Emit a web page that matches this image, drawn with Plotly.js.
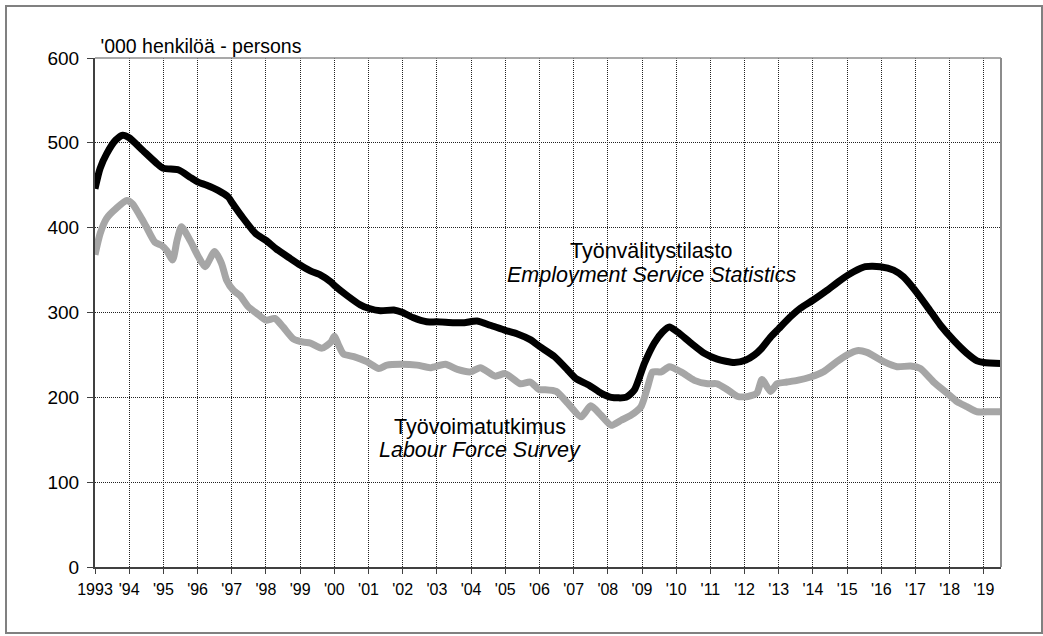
<!DOCTYPE html>
<html>
<head>
<meta charset="utf-8">
<script src="https://cdn.plot.ly/plotly-3.0.1.min.js"></script>
<style>
  body { margin: 0; background: #fff; }
  #plot { width: 1043px; height: 636px; }
  #frame { position: absolute; left: 5px; top: 5px; width: 1034px; height: 625px;
           border: 2px solid #808080; pointer-events: none; }
</style>
</head>
<body>
<div id="plot"></div>
<div id="frame"></div>
<script>
// tyottomat (thousands)
const esYears = [1993.0, 1993.15, 1993.34, 1993.6, 1993.81, 1994.0, 1994.4, 1994.8, 1995.0, 1995.45,
  1995.8, 1996.0, 1996.27, 1996.6, 1996.9, 1997.0, 1997.3, 1997.7, 1998.0, 1998.3,
  1998.7, 1999.0, 1999.3, 1999.6, 1999.9, 2000.0, 2000.37, 2000.76, 2001.0, 2001.35,
  2001.74, 2002.0, 2002.3, 2002.7, 2003.0, 2003.5, 2003.8, 2004.17, 2004.56, 2005.0,
  2005.34, 2005.73, 2006.0, 2006.44, 2006.83, 2007.07, 2007.46, 2007.8, 2008.1, 2008.53,
  2008.78, 2009.07, 2009.36, 2009.6, 2009.8, 2010.04, 2010.43, 2010.82, 2011.2, 2011.7,
  2012.04, 2012.29, 2012.48, 2012.76, 2013.0, 2013.34, 2013.63, 2014.02, 2014.41, 2014.8,
  2015.19, 2015.53, 2015.97, 2016.36, 2016.65, 2016.95, 2017.34, 2017.73, 2018.12, 2018.5,
  2018.8, 2019.0, 2019.5];
const esValues = [446, 470, 487, 503, 509, 506, 491, 476, 470, 468,
  459, 454, 450, 444, 436, 430, 413, 393, 385, 375,
  364, 356, 349, 344, 336, 332, 320, 309, 305, 302,
  303, 300, 294, 289, 289, 288, 288, 290, 285, 279,
  275, 268, 260, 248, 232, 222, 214, 205, 200, 200,
  209, 240, 264, 277, 283, 277, 264, 252, 245, 241,
  244, 250, 257, 271, 281, 295, 305, 315, 326, 338,
  348, 354, 354, 350, 342, 328, 307, 285, 267, 252,
  243, 241, 240];

const lfsYears = [1993.0, 1993.15, 1993.34, 1993.63, 1993.93, 1994.1, 1994.33, 1994.5, 1994.75, 1994.95,
  1995.1, 1995.27, 1995.4, 1995.53, 1995.78, 1996.02, 1996.22, 1996.5, 1996.7, 1996.85,
  1997.05, 1997.24, 1997.48, 1997.73, 1998.0, 1998.26, 1998.5, 1998.8, 1999.1, 1999.3,
  1999.64, 1999.9, 2000.0, 2000.12, 2000.27, 2000.57, 2000.95, 2001.3, 2001.54, 2001.93,
  2002.42, 2002.8, 2003.25, 2003.6, 2003.98, 2004.27, 2004.7, 2005.0, 2005.44, 2005.73,
  2006.0, 2006.15, 2006.49, 2006.83, 2007.22, 2007.5, 2007.8, 2008.1, 2008.39, 2008.68,
  2008.97, 2009.17, 2009.31, 2009.56, 2009.8, 2010.14, 2010.53, 2010.92, 2011.2, 2011.5,
  2011.8, 2012.1, 2012.36, 2012.51, 2012.76, 2012.95, 2013.24, 2013.54, 2013.93, 2014.3,
  2014.7, 2015.0, 2015.29, 2015.58, 2016.07, 2016.46, 2016.85, 2017.14, 2017.53, 2017.92,
  2018.21, 2018.5, 2018.8, 2019.19, 2019.5];
const lfsValues = [368, 393, 411, 423, 432, 428, 413, 401, 383, 379,
  373, 362, 385, 401, 385, 366, 354, 372, 358, 338,
  326, 320, 307, 299, 291, 293, 283, 269, 265, 264,
  258, 265, 272, 262, 251, 248, 242, 234, 238, 239,
  238, 235, 239, 233, 230, 235, 225, 228, 216, 218,
  209, 209, 207, 193, 177, 190, 179, 167, 173, 179,
  189, 213, 230, 230, 236, 230, 220, 216, 216, 209,
  201, 201, 205, 221, 207, 216, 218, 220, 224, 230,
  242, 250, 255, 253, 242, 236, 237, 234, 218, 205,
  195, 189, 183, 183, 183];

const tickYears = [];
const tickLabels = [];
for (let y = 1993; y <= 2019; y++) {
    tickYears.push(y);
    tickLabels.push(y === 1993 ? '1993' : "'" + String(y).slice(2));
}

const font = 'Liberation Sans, Arial, sans-serif';
const grid = { showgrid: true, gridcolor: '#222', gridwidth: 1, griddash: '1px,1px' };

const traceLfs = {
    x: lfsYears, y: lfsValues, mode: 'lines', type: 'scatter',
    line: { color: '#a6a6a6', width: 7, shape: 'spline', smoothing: 0.6 },
    hoverinfo: 'skip'
};
const traceEs = {
    x: esYears, y: esValues, mode: 'lines', type: 'scatter',
    line: { color: '#000000', width: 7, shape: 'spline', smoothing: 0.6 },
    hoverinfo: 'skip'
};

const layout = {
    width: 1043, height: 636,
    margin: { l: 95, r: 42, t: 58, b: 69 },
    paper_bgcolor: '#fff', plot_bgcolor: '#fff',
    showlegend: false,
    font: { family: font, color: '#000' },
    title: {
        text: "'000 henkilöä - persons",
        font: { size: 19.5, family: font, color: '#000' },
        xref: 'paper', x: 0.006, xanchor: 'left',
        yref: 'container', y: 1 - 46 / 636, yanchor: 'middle'
    },
    xaxis: Object.assign({
        range: [1993, 2019.5], tickvals: tickYears, ticktext: tickLabels,
        ticks: 'outside', ticklen: 5, tickcolor: '#404040', tickwidth: 1,
        showline: true, linecolor: '#404040', linewidth: 2, zeroline: false,
        ticklabelstandoff: 2,
        tickfont: { size: 16, family: font, color: '#000' }, fixedrange: true
    }, grid),
    yaxis: Object.assign({
        range: [0, 600], dtick: 100, tick0: 0,
        ticks: 'outside', ticklen: 6, tickcolor: '#404040', tickwidth: 1,
        showline: true, linecolor: '#404040', linewidth: 2, zeroline: false,
        ticklabelstandoff: 4,
        tickfont: { size: 19, family: font, color: '#000' }, fixedrange: true
    }, grid),
    shapes: [
        { type: 'line', xref: 'paper', yref: 'paper', x0: 1, x1: 1, y0: 0, y1: 1,
          line: { color: '#8c8c8c', width: 2 } },
        { type: 'line', xref: 'paper', yref: 'paper', x0: 0, x1: 1, y0: 1, y1: 1,
          line: { color: '#8c8c8c', width: 1.5 } }
    ],
    annotations: [
        { text: 'Työnvälitystilasto', x: 2009.28, y: 372, xref: 'x', yref: 'y',
          showarrow: false, xanchor: 'center', yanchor: 'middle', font: { size: 21.5 } },
        { text: '<i>Employment Service Statistics</i>', x: 2009.28, y: 344, xref: 'x', yref: 'y',
          showarrow: false, xanchor: 'center', yanchor: 'middle', font: { size: 21.5 } },
        { text: 'Työvoimatutkimus', x: 2004.26, y: 165, xref: 'x', yref: 'y',
          showarrow: false, xanchor: 'center', yanchor: 'middle', font: { size: 21.5 } },
        { text: '<i>Labour Force Survey</i>', x: 2004.26, y: 138, xref: 'x', yref: 'y',
          showarrow: false, xanchor: 'center', yanchor: 'middle', font: { size: 21.5 } }
    ]
};

Plotly.newPlot('plot', [traceLfs, traceEs], layout, { displayModeBar: false, staticPlot: true });
</script>
</body>
</html>
